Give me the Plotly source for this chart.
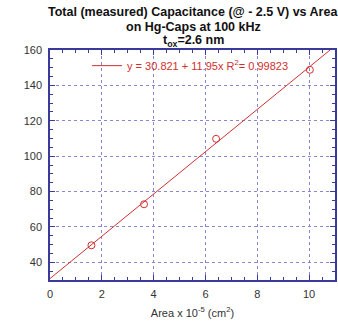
import plotly.graph_objects as go

area = [1.6, 3.63, 6.41, 10.03]
cap = [49.6, 72.8, 109.8, 148.8]
fit_x = [0, 10.81]
intercept = 30.821
slope = 11.95
fit_y = [intercept + slope * v for v in fit_x]
title_lines = ["Total (measured) Capacitance (@ - 2.5 V) vs Area",
               "on Hg-Caps at 100 kHz",
               "t<sub>ox</sub>=2.6 nm"]

red = "#d03030"
axc = "#3a3a9a"
gridc = "#8888cc"

fig = go.Figure()
fig.add_trace(go.Scatter(x=fit_x, y=fit_y, mode="lines", line=dict(color=red, width=1),
                         name="y = 30.821 + 11.95x R<sup>2</sup>= 0.99823", showlegend=True))
fig.add_trace(go.Scatter(x=area, y=cap, mode="markers",
                         marker=dict(symbol="circle-open", color=red, size=7, line=dict(width=1)),
                         showlegend=False))

axis_common = dict(showline=True, linecolor=axc, linewidth=1.5, mirror="ticks",
                   ticks="inside", tickcolor=axc, ticklen=5,
                   showgrid=True, gridcolor=gridc, griddash="dot", gridwidth=1,
                   zeroline=False, tickfont=dict(size=11, color="#333333"))
fig.update_xaxes(range=[0, 11], dtick=2, tick0=0, ticklabelstandoff=3,
                 minor=dict(dtick=0.5, ticks="inside", ticklen=3, tickcolor=axc, showgrid=False),
                 title=dict(text="Area x 10<sup>-5</sup> (cm<sup>2</sup>)", font=dict(size=11, color="#333333"), standoff=10),
                 **axis_common)
fig.update_yaxes(range=[30, 160], dtick=20, tick0=0, ticklabelstandoff=4,
                 minor=dict(dtick=5, ticks="inside", ticklen=3, tickcolor=axc, showgrid=False),
                 **axis_common)

ys = [(280 - 12) / 230, (280 - 27) / 230, (280 - 41) / 230]
for txt, yy in zip(title_lines, ys):
    fig.add_annotation(text="<b>" + txt + "</b>", xref="paper", yref="paper", x=0.502, y=yy,
                       xanchor="center", yanchor="middle", showarrow=False,
                       font=dict(size=12.5, color="#111111"))

fig.update_layout(
    width=338, height=328,
    margin=dict(l=50, r=1, t=50, b=48),
    paper_bgcolor="white", plot_bgcolor="white",
    font=dict(family="Liberation Sans, Arial, sans-serif"),
    legend=dict(x=0.13, y=0.995, xanchor="left", yanchor="top", bgcolor="rgba(0,0,0,0)",
                font=dict(size=11, color=red), itemwidth=30),
)
fig.write_html("out.html")
